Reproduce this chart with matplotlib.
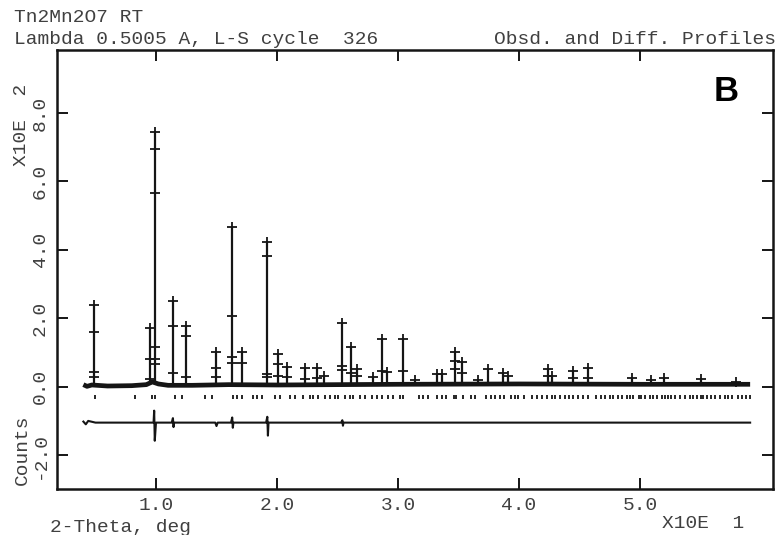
import matplotlib
matplotlib.use("Agg")
import matplotlib.pyplot as plt

# --- data (x in units of 10 deg, y in units of 100 counts) ---

# background of the observed profile
bg_x = [0.40, 0.43, 0.47, 0.60, 0.80, 0.92, 0.97, 1.02, 1.10, 1.30, 1.60, 2.00, 2.50, 3.00, 4.00, 5.00, 5.91]
bg_y = [0.06, 0.01, 0.05, 0.02, 0.03, 0.06, 0.14, 0.08, 0.04, 0.04, 0.06, 0.05, 0.06, 0.07, 0.08, 0.07, 0.07]

# Bragg peaks: position, peak top and the observed points (crosses) along each peak
peak_pos = [0.49, 0.95, 0.99, 1.14, 1.25, 1.50, 1.63, 1.71, 1.92, 2.01,
            2.08, 2.23, 2.33, 2.39, 2.54, 2.61, 2.66, 2.79, 2.87, 2.91,
            3.04, 3.14, 3.32, 3.36, 3.47, 3.53, 3.66, 3.74, 3.87, 3.91,
            4.24, 4.27, 4.45, 4.57, 4.93, 5.09, 5.20, 5.50, 5.79]
peak_top = [2.40, 1.72, 7.45, 2.50, 1.78, 1.02, 4.68, 1.02, 4.22, 0.97,
            0.58, 0.56, 0.56, 0.30, 1.86, 1.17, 0.52, 0.27, 1.38, 0.42,
            1.38, 0.20, 0.38, 0.38, 1.02, 0.73, 0.20, 0.53, 0.40, 0.30,
            0.52, 0.30, 0.45, 0.55, 0.25, 0.20, 0.25, 0.22, 0.15]
peak_obs = [[2.40, 1.60, 0.44, 0.27], [1.72, 0.82, 0.23], [7.45, 6.95, 5.65, 1.15, 0.80, 0.65],
            [2.50, 1.78, 0.41], [1.78, 1.49, 0.27], [1.02, 0.55, 0.27], [4.68, 2.07, 0.88, 0.70],
            [1.02, 0.70], [4.22, 3.82, 0.38, 0.27], [0.97, 0.67, 0.32],
            [0.58, 0.27], [0.56, 0.22], [0.56, 0.25], [0.30], [1.86, 0.60, 0.50],
            [1.17, 0.40], [0.52, 0.30], [0.27], [1.38, 0.45], [0.42],
            [1.38, 0.47], [0.20], [0.38], [0.38], [1.02, 0.76, 0.52],
            [0.73, 0.40], [0.20], [0.53], [0.40], [0.30],
            [0.52, 0.30], [0.30], [0.45, 0.25], [0.55, 0.25], [0.25],
            [0.20], [0.25], [0.22], [0.15]]
peak_base = 0.06  # level the peak lines start from

# reflection positions (tick row under the pattern)
refl_pos = [0.496, 0.826, 0.967, 0.992, 1.157, 1.215, 1.405, 1.463, 1.636, 1.669,
            1.711, 1.802, 1.835, 1.876, 1.983, 2.025, 2.107, 2.149, 2.215, 2.273,
            2.298, 2.339, 2.397, 2.438, 2.479, 2.504, 2.562, 2.603, 2.628, 2.686,
            2.727, 2.785, 2.826, 2.868, 2.917, 2.959, 3.017, 3.04, 3.17, 3.21,
            3.25, 3.32, 3.36, 3.40, 3.46, 3.48, 3.54, 3.60, 3.64, 3.73,
            3.77, 3.80, 3.84, 3.88, 3.93, 3.97, 3.99, 4.04, 4.11, 4.15,
            4.19, 4.23, 4.27, 4.30, 4.34, 4.38, 4.41, 4.45, 4.49, 4.53,
            4.57, 4.64, 4.68, 4.71, 4.75, 4.78, 4.82, 4.85, 4.89, 4.92,
            4.94, 4.99, 5.01, 5.04, 5.08, 5.11, 5.14, 5.18, 5.21, 5.23,
            5.26, 5.29, 5.33, 5.37, 5.41, 5.44, 5.47, 5.50, 5.52, 5.55,
            5.59, 5.62, 5.66, 5.70, 5.73, 5.76, 5.81, 5.84, 5.88, 5.91]

# difference curve (obs - calc, offset)
diff_x = [0.40, 0.42, 0.44, 0.50, 0.90, 0.980, 0.985, 0.990, 1.00, 1.13, 1.14, 1.145, 1.15,
          1.49, 1.50, 1.51, 1.62, 1.63, 1.635, 1.64, 1.91, 1.92, 1.925, 1.93,
          2.53, 2.54, 2.545, 2.55, 5.91]
diff_y = [-1.02, -1.10, -1.00, -1.05, -1.05, -1.05, -0.70, -1.58, -1.05, -1.05, -0.92, -1.18, -1.05,
          -1.05, -1.15, -1.05, -1.05, -0.90, -1.20, -1.05, -1.05, -0.88, -1.43, -1.05,
          -1.05, -0.98, -1.14, -1.05, -1.05]

x_ticks = [1.0, 2.0, 3.0, 4.0, 5.0]
y_ticks = [-2.0, 0.0, 2.0, 4.0, 6.0, 8.0]

INK = "#151515"
TXT = "#404040"
MONO = "Liberation Mono"
FS = 14

fig = plt.figure(figsize=(7.81, 5.35), dpi=100)
ax = fig.add_axes([57 / 781, 1 - 489 / 535, (773 - 57) / 781, (489 - 50) / 535])

# observed background (dense crosses look like a thick line)
ax.plot(bg_x, bg_y, color=INK, lw=3.4, solid_capstyle="butt")

# peaks: calc profile as thin vertical lines, observed points as crosses
ax.vlines(peak_pos, peak_base, peak_top, color=INK, lw=1.6)
for p, obs in zip(peak_pos, peak_obs):
    ax.plot([p] * len(obs), obs, ls="none", marker="+", ms=7, mew=1.3, color=INK)

# reflection ticks
ax.vlines(refl_pos, -0.37, -0.25, color=INK, lw=1.3)

# difference curve
ax.plot(diff_x, diff_y, color=INK, lw=1.5)

ax.set_xlim(0.182, 6.099)
ax.set_ylim(-2.99, 9.84)

ax.set_xticks(x_ticks)
ax.set_xticklabels([f"{v:.1f}" for v in x_ticks])
ax.set_yticks(y_ticks)
ax.set_yticklabels([f"{v:.1f}" for v in y_ticks], rotation=90, va="center")
ax.tick_params(direction="in", length=8, width=1.4, color=INK, top=True, right=True,
               labeltop=False, labelright=False, labelsize=FS, labelcolor=TXT, pad=6)
for lab in ax.get_xticklabels() + ax.get_yticklabels():
    lab.set_family(MONO)
for s in ax.spines.values():
    s.set_linewidth(1.8)
    s.set_color(INK)

# header and axis texts, GSAS style
fig.text(14 / 781, 1 - 18 / 535, "Tn2Mn2O7 RT", family=MONO, fontsize=FS, color=TXT, va="center")
fig.text(14 / 781, 1 - 40 / 535, "Lambda 0.5005 A, L-S cycle  326", family=MONO, fontsize=FS,
         color=TXT, va="center")
fig.text(776 / 781, 1 - 40 / 535, "Obsd. and Diff. Profiles", family=MONO, fontsize=FS,
         color=TXT, va="center", ha="right")
fig.text(22 / 781, 1 - 125 / 535, "X10E  2", family=MONO, fontsize=FS, color=TXT,
         rotation=90, va="center", ha="center")
fig.text(22 / 781, 1 - 450 / 535, "Counts", family=MONO, fontsize=FS, color=TXT,
         rotation=90, va="center", ha="center")
fig.text(50 / 781, 1 - 527 / 535, "2-Theta, deg", family=MONO, fontsize=FS, color=TXT, va="center")
fig.text(744 / 781, 1 - 524 / 535, "X10E  1", family=MONO, fontsize=FS, color=TXT,
         va="center", ha="right")

# panel letter
ax.text(0.935, 0.905, "B", transform=ax.transAxes, family="Liberation Sans", fontweight="bold",
        fontsize=25, color="black", ha="center", va="center")

fig.savefig("out.png", dpi=100)
